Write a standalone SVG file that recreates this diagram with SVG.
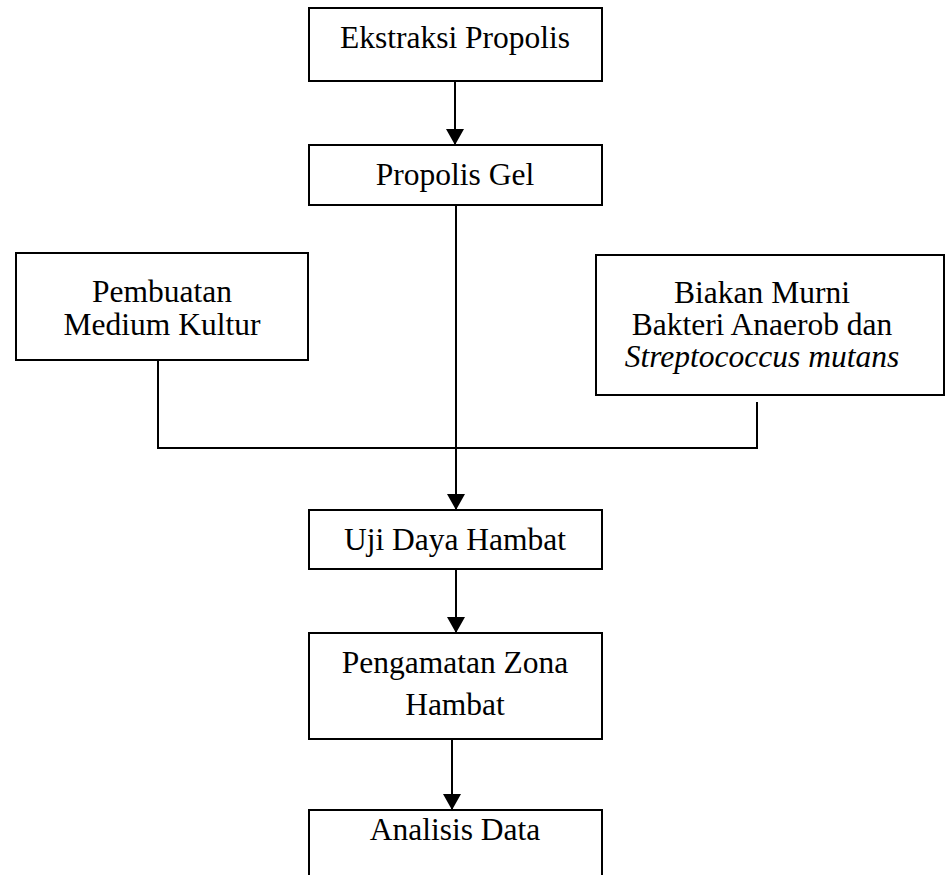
<svg xmlns="http://www.w3.org/2000/svg" width="945" height="875" viewBox="0 0 945 875">
<style>
.box{fill:#fff;stroke:#000;stroke-width:2}
.t{font-family:"Liberation Serif","Times New Roman",serif;font-size:31.5px;fill:#000;text-anchor:middle}
.ln{fill:none;stroke:#000;stroke-width:2}
</style>
<defs>
<marker id="ah" markerUnits="userSpaceOnUse" markerWidth="16" markerHeight="18" refX="16" refY="9" orient="auto" viewBox="0 0 16 18">
<path d="M0,0 L16,9 L0,18 Z" fill="#000"/>
</marker>
</defs>
<rect width="945" height="875" fill="#fff"/>
<g id="connectors">
<path class="ln" d="M455,81 V145" marker-end="url(#ah)"/>
<path class="ln" d="M456,205 V510" marker-end="url(#ah)"/>
<path class="ln" d="M158,360 V448 H757 V402"/>
<path class="ln" d="M456,569 V633" marker-end="url(#ah)"/>
<path class="ln" d="M452,739 V810" marker-end="url(#ah)"/>
</g>
<g id="n1"><rect class="box" x="309" y="8" width="293" height="73"/><text class="t" x="455" y="48">Ekstraksi Propolis</text></g>
<g id="n2"><rect class="box" x="309" y="145" width="293" height="60"/><text class="t" x="455" y="185">Propolis Gel</text></g>
<g id="n3"><rect class="box" x="16" y="253" width="292" height="107"/><text class="t" x="162" y="302">Pembuatan</text><text class="t" x="162" y="335">Medium Kultur</text></g>
<g id="n4"><rect class="box" x="596" y="255" width="348" height="140"/><text class="t" x="762" y="303">Biakan Murni</text><text class="t" x="762" y="335">Bakteri Anaerob dan</text><text class="t" x="762" y="367" font-style="italic">Streptococcus mutans</text></g>
<g id="n5"><rect class="box" x="309" y="510" width="293" height="59"/><text class="t" x="455" y="550">Uji Daya Hambat</text></g>
<g id="n6"><rect class="box" x="309" y="633" width="293" height="106"/><text class="t" x="455" y="673">Pengamatan Zona</text><text class="t" x="455" y="715">Hambat</text></g>
<g id="n7"><rect class="box" x="309" y="810" width="293" height="80"/><text class="t" x="455" y="840">Analisis Data</text></g>
</svg>
